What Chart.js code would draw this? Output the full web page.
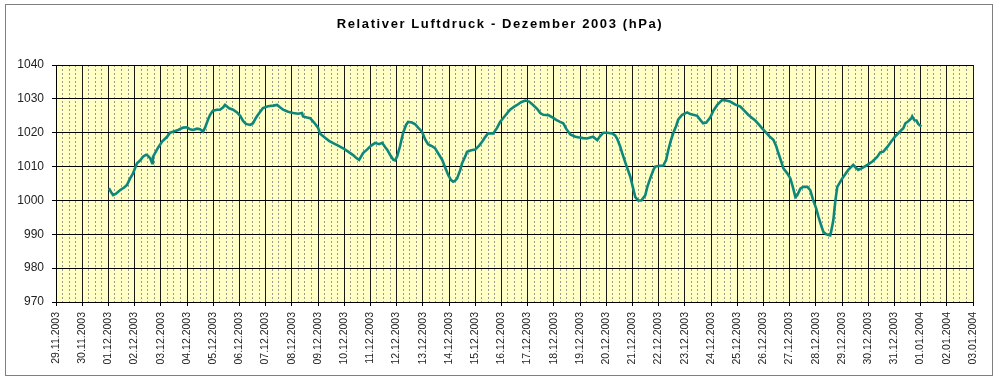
<!DOCTYPE html>
<html>
<head>
<meta charset="utf-8">
<script src="https://cdn.jsdelivr.net/npm/chart.js@4.4.1/dist/chart.umd.min.js"></script>
<style>
  html, body { margin: 0; padding: 0; background: #ffffff; }
  #wrap { position: relative; width: 1000px; height: 382px; }
</style>
</head>
<body>
<div id="wrap"><canvas id="c"></canvas></div>
<script>
// ---- data ----
const chartTitle = 'Relativer Luftdruck - Dezember 2003 (hPa)';

// x-axis tick labels: one per day, 29.11.2003 .. 03.01.2004
const dateLabels = [
  '29.11.2003','30.11.2003','01.12.2003','02.12.2003','03.12.2003','04.12.2003',
  '05.12.2003','06.12.2003','07.12.2003','08.12.2003','09.12.2003','10.12.2003',
  '11.12.2003','12.12.2003','13.12.2003','14.12.2003','15.12.2003','16.12.2003',
  '17.12.2003','18.12.2003','19.12.2003','20.12.2003','21.12.2003','22.12.2003',
  '23.12.2003','24.12.2003','25.12.2003','26.12.2003','27.12.2003','28.12.2003',
  '29.12.2003','30.12.2003','31.12.2003','01.01.2004','02.01.2004','03.01.2004'
];

// time of each reading, in days since 29.11.2003 00:00
const days = [2.02,2.10,2.18,2.29,2.44,2.60,2.71,2.83,2.94,3.09,3.21,3.32,3.44,3.51,3.59,3.67,3.70,3.78,3.89,4.05,4.24,4.35,4.47,4.66,4.85,5.00,5.12,5.23,5.38,5.50,5.61,5.69,5.80,5.88,5.99,6.15,6.26,6.38,6.45,6.61,6.76,6.91,7.03,7.14,7.25,7.41,7.52,7.64,7.71,7.90,8.09,8.29,8.44,8.55,8.67,8.86,9.05,9.24,9.39,9.43,9.58,9.70,9.85,10.00,10.08,10.27,10.42,10.58,10.77,10.96,11.15,11.34,11.45,11.57,11.72,11.87,12.03,12.18,12.33,12.45,12.56,12.64,12.75,12.87,12.94,13.02,13.13,13.25,13.36,13.44,13.59,13.71,13.82,13.97,14.09,14.20,14.36,14.47,14.62,14.74,14.85,14.97,15.08,15.16,15.23,15.31,15.43,15.50,15.62,15.69,15.85,16.00,16.15,16.27,16.38,16.49,16.69,16.84,16.95,17.14,17.33,17.49,17.60,17.75,17.91,18.06,18.21,18.37,18.48,18.60,18.79,18.98,19.09,19.24,19.36,19.47,19.63,19.82,19.97,20.12,20.27,20.39,20.50,20.66,20.77,20.89,21.04,21.23,21.34,21.42,21.53,21.61,21.76,21.92,22.03,22.11,22.22,22.34,22.49,22.57,22.68,22.80,22.87,23.02,23.18,23.29,23.37,23.48,23.56,23.67,23.75,23.90,24.09,24.21,24.32,24.47,24.59,24.70,24.82,24.97,25.09,25.24,25.43,25.58,25.73,25.93,26.12,26.27,26.42,26.58,26.69,26.84,26.96,27.07,27.22,27.38,27.49,27.57,27.68,27.76,27.91,28.03,28.14,28.22,28.29,28.41,28.52,28.68,28.79,28.90,29.02,29.10,29.21,29.29,29.40,29.55,29.59,29.67,29.74,29.82,30.01,30.13,30.24,30.43,30.51,30.62,30.78,30.97,31.16,31.35,31.46,31.58,31.73,31.88,32.03,32.19,32.34,32.42,32.53,32.65,32.68,32.76,32.84,32.91,33.03];

// relative air pressure (hPa)
const pressure = [1003.6,1002.5,1001.6,1002,1003,1003.8,1004.6,1006.5,1008,1011,1011.8,1012.9,1013.5,1013.2,1012.5,1011,1012.8,1014,1015.5,1017.4,1018.8,1020,1020.3,1020.8,1021.5,1021.6,1021,1020.8,1021.2,1021,1020.3,1021.5,1023.8,1025.3,1026.5,1026.8,1026.8,1027.5,1028.2,1027.2,1026.8,1026,1025,1023.5,1022.6,1022.3,1022.8,1024.5,1025.3,1027.3,1027.8,1028,1028.2,1027.5,1026.8,1026.2,1025.8,1025.6,1025.8,1024.8,1024.5,1024.3,1023,1021.5,1019.7,1018.5,1017.6,1016.9,1016.2,1015.4,1014.4,1013.4,1012.6,1012,1014,1015,1016.2,1017,1016.6,1017,1015.8,1015,1013.5,1012,1011.8,1013,1016,1020,1022.3,1023.2,1023,1022.5,1021.5,1020.3,1018,1016.6,1016,1015.4,1013.5,1012,1009.8,1007.5,1006,1005.5,1005.8,1006.5,1009,1011,1013,1014.4,1014.8,1015,1016.2,1017.4,1018.7,1019.8,1019.8,1021.5,1023.2,1025,1026.8,1027.7,1028.2,1029,1029.5,1029.2,1028.2,1027,1025.8,1025.3,1025.2,1024.4,1023.8,1023.2,1022.8,1021.2,1019.5,1018.8,1018.6,1018.4,1018.3,1018.6,1018.8,1017.8,1019,1020,1020,1019.8,1019.2,1018.2,1016,1014,1010.5,1007,1003.5,1001,1000,1000,1001.5,1004,1006.5,1009,1010,1010.2,1010.3,1012,1014.9,1018,1019.9,1022,1023.9,1025.3,1026,1025.5,1025.3,1025,1023.8,1022.8,1023,1024.5,1026.5,1028.2,1029.7,1029.5,1029.2,1028.3,1027.7,1026.5,1025.3,1024.3,1023.6,1022.3,1021.2,1020.3,1019,1017.9,1016,1014,1011.5,1009.5,1008,1006.5,1003.5,1001,1001.5,1003.5,1004,1004,1003,1000.1,997.5,995.2,992.5,990.7,990,989.7,991,994.2,999.5,1004,1006.5,1007.8,1009,1010.5,1009.8,1009,1009.6,1010.5,1011.5,1012.9,1014.2,1014.4,1015.8,1017.4,1018.9,1020.2,1021.3,1022.8,1023.4,1024.3,1024.8,1023.7,1023.6,1022.6,1021.8];

const yMin = 970, yMax = 1040, yStep = 10;

// ---- build points ----
const n = Math.min(days.length, pressure.length);
const points = [];
for (let i = 0; i < n; i++) points.push({ x: days[i], y: pressure[i] });

const FONT = '"Liberation Sans", Arial, sans-serif';

const decor = {
  id: 'decor',
  beforeDraw(chart) {
    const ctx = chart.ctx, a = chart.chartArea;
    ctx.save();
    ctx.fillStyle = '#ffffff';
    ctx.fillRect(0, 0, chart.width, chart.height);
    ctx.fillStyle = '#FFFFC6';
    ctx.fillRect(a.left, a.top, a.right - a.left, a.bottom - a.top);
    ctx.strokeStyle = '#7f7f7f';
    ctx.lineWidth = 1;
    ctx.strokeRect(5.5, 4.5, 987, 371);
    ctx.restore();
    // spaced-out lettering for the title
    ctx.letterSpacing = '1.6px';
  },
  beforeDatasetsDraw(chart) {
    chart.ctx.letterSpacing = '0px';
  }
};

new Chart(document.getElementById('c'), {
  type: 'line',
  data: {
    datasets: [{
      data: points,
      borderColor: '#0E877B',
      borderWidth: 2.6,
      pointRadius: 0,
      tension: 0,
      fill: false
    }]
  },
  options: {
    responsive: true,
    maintainAspectRatio: false,
    animation: false,
    layout: { padding: { left: 6, right: 6, top: 6, bottom: 6 } },
    plugins: {
      legend: { display: false },
      tooltip: { enabled: false },
      title: {
        display: true,
        text: chartTitle,
        color: '#000000',
        font: { family: FONT, size: 13, weight: 'bold' },
        padding: { top: 11, bottom: 32.4 }
      }
    },
    scales: {
      xMinor: {
        type: 'linear',
        position: 'bottom',
        min: 0, max: dateLabels.length - 1,
        ticks: { display: false, stepSize: 0.25, autoSkip: false },
        grid: {
          drawTicks: false,
          color: (c) => (Math.abs(c.tick.value - Math.round(c.tick.value)) < 1e-6 ? 'rgba(0,0,0,0)' : '#9b9b8c'),
          lineWidth: 1
        },
        border: { display: false, dash: [2, 2] },
        afterFit: (s) => { s.height = 0; }
      },
      x: {
        type: 'linear',
        position: 'bottom',
        min: 0, max: dateLabels.length - 1,
        ticks: {
          stepSize: 1,
          autoSkip: false,
          maxRotation: 90, minRotation: 90,
          padding: 6,
          z: 1,
          color: '#222222',
          font: { family: FONT, size: 10.5 },
          callback: (v) => dateLabels[Math.round(v)]
        },
        grid: { color: '#1a1a1a', lineWidth: 1, tickLength: 4, tickColor: '#000000' },
        border: { color: '#000000', width: 1 },
        afterFit: (s) => { s.height = 74; }
      },
      y: {
        type: 'linear',
        position: 'left',
        min: yMin, max: yMax,
        ticks: {
          stepSize: yStep,
          padding: 8,
          z: 1,
          color: '#222222',
          font: { family: FONT, size: 12 },
          callback: (v) => String(v)
        },
        grid: { color: '#000000', lineWidth: 1, tickLength: 4, tickColor: '#000000' },
        border: { color: '#000000', width: 1 },
        afterFit: (s) => { s.width = 50; }
      },
      yRight: {
        type: 'linear',
        position: 'right',
        min: yMin, max: yMax,
        ticks: { display: false },
        grid: { display: false, drawTicks: false },
        border: { display: false },
        afterFit: (s) => { s.width = 21; }
      }
    }
  },
  plugins: [decor]
});
</script>
</body>
</html>
